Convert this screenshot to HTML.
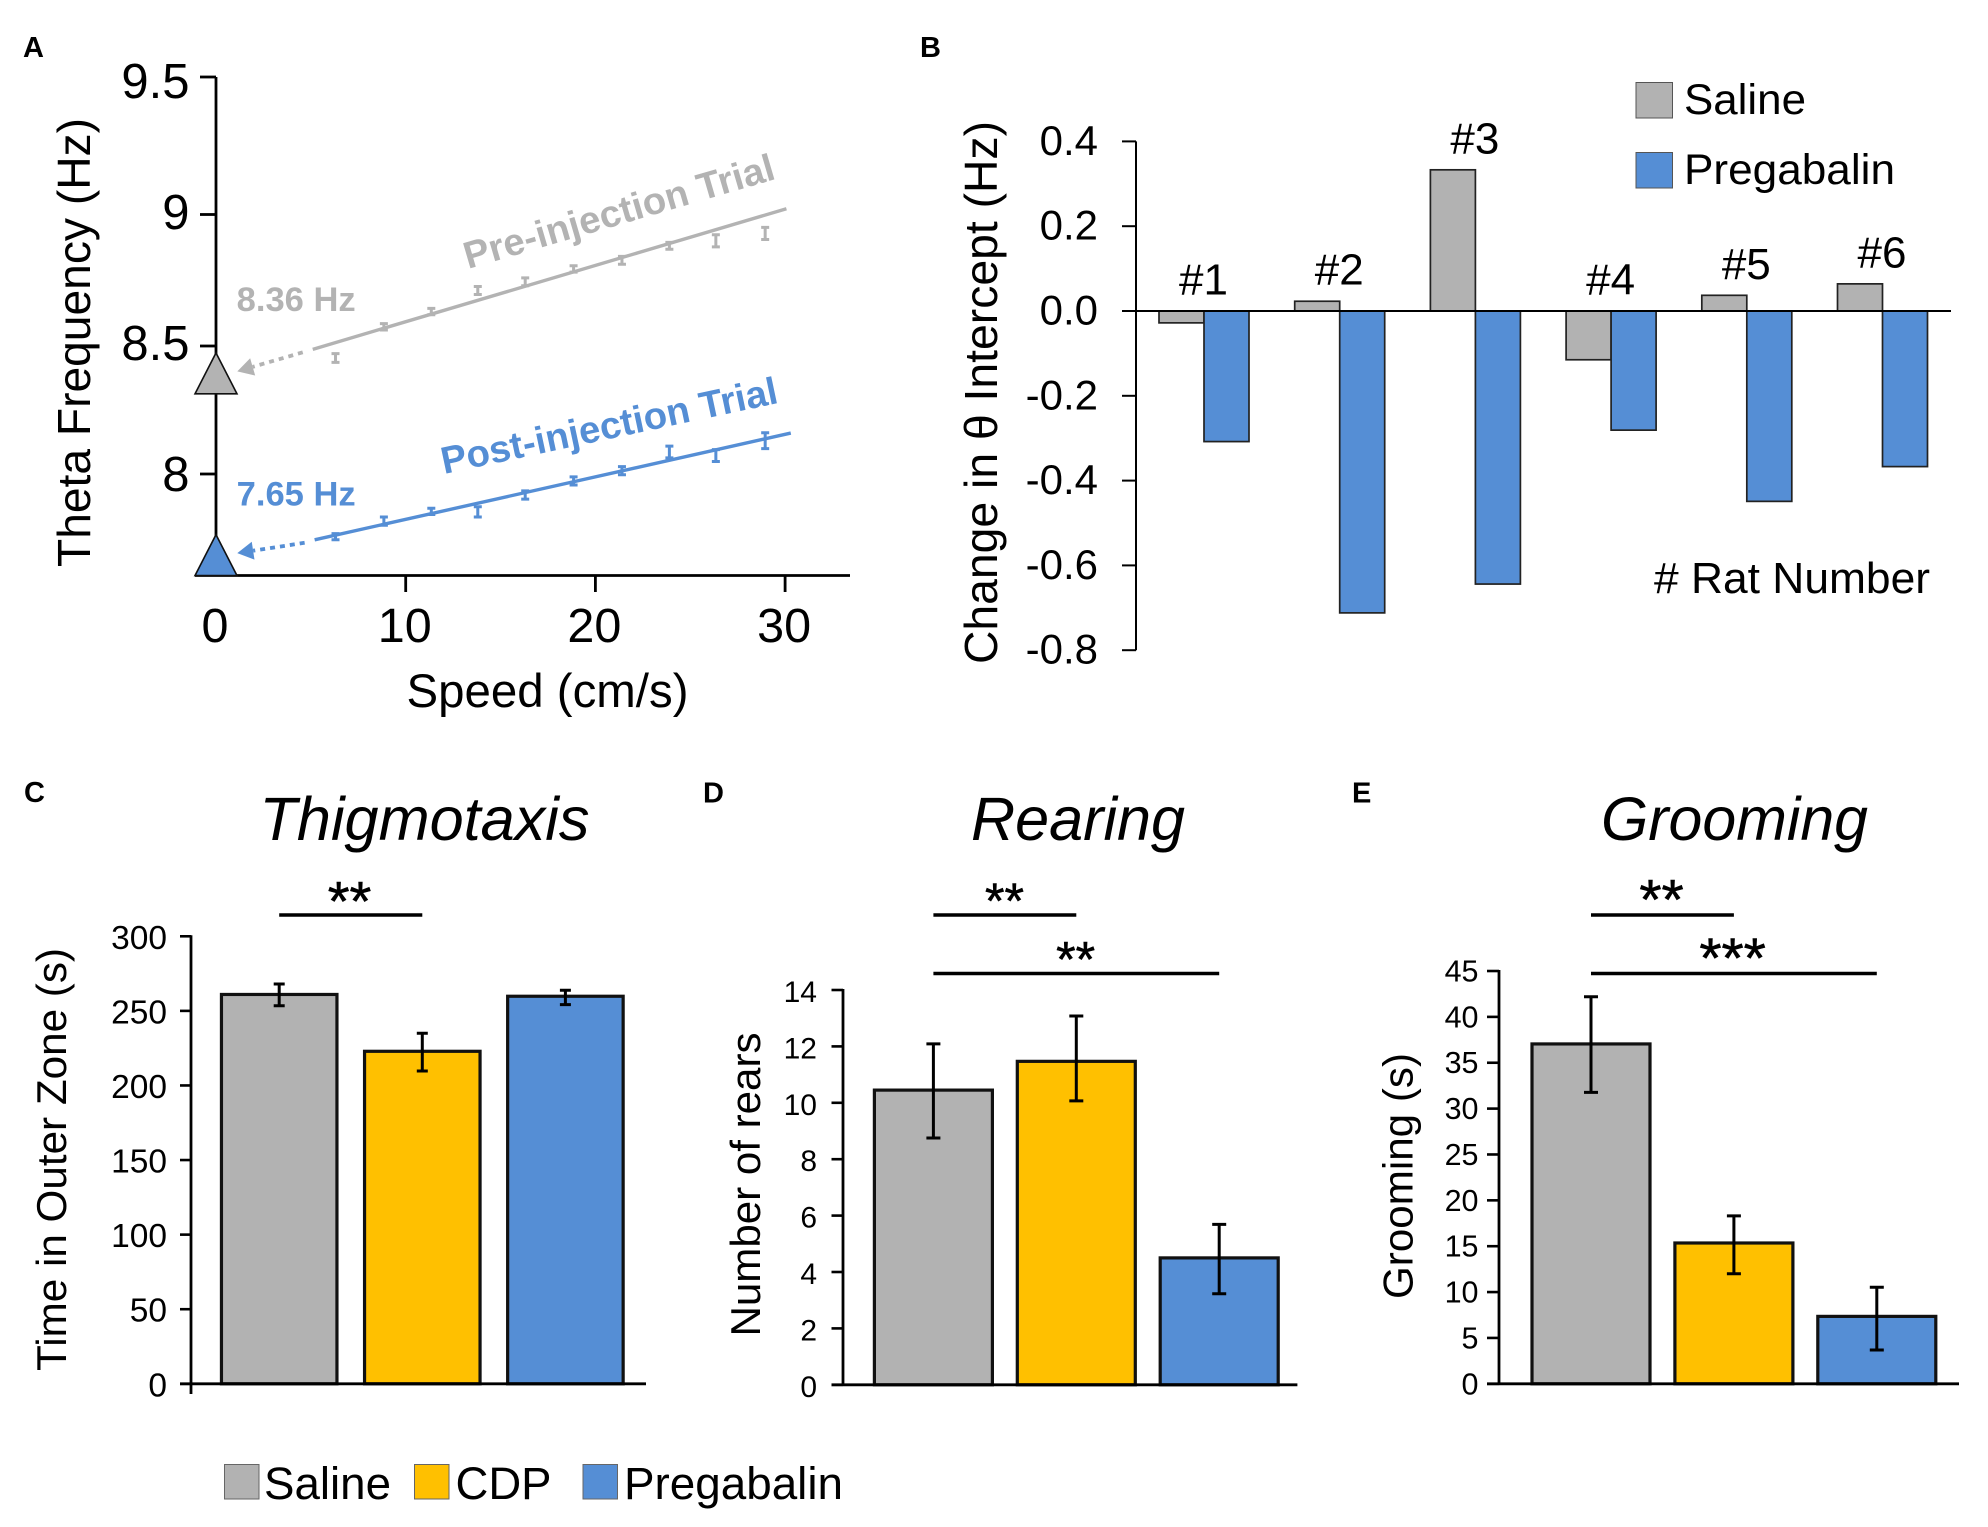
<!DOCTYPE html>
<html lang="en">
<head>
<meta charset="utf-8">
<title>Theta frequency and behaviour figure</title>
<style>
html,body{margin:0;padding:0;background:#fff;}
svg{display:block;font-family:"Liberation Sans",Arial,sans-serif;fill:#000;}
</style>
</head>
<body>
<svg id="figure" xmlns="http://www.w3.org/2000/svg" width="1988" height="1527" viewBox="0 0 1988 1527">
  <rect x="0" y="0" width="1988" height="1527" fill="#fff"/>

  <g id="panel-a">
    <text x="23" y="57" font-size="29" font-weight="bold">A</text>
    <text transform="translate(90,567) rotate(-90)" font-size="46" textLength="449" lengthAdjust="spacingAndGlyphs">Theta Frequency (Hz)</text>
    <text x="406.5" y="707" font-size="47" textLength="282" lengthAdjust="spacingAndGlyphs">Speed (cm/s)</text>
    <text transform="translate(468,269) rotate(-16.3)" font-size="38" font-weight="bold" fill="#b3b3b3" textLength="322" lengthAdjust="spacingAndGlyphs">Pre-injection Trial</text>
    <text transform="translate(444,474) rotate(-12)" font-size="38" font-weight="bold" fill="#558ed5" textLength="343" lengthAdjust="spacingAndGlyphs">Post-injection Trial</text>
    <text x="236.7" y="311" font-size="34" font-weight="bold" fill="#b3b3b3" textLength="119" lengthAdjust="spacingAndGlyphs">8.36 Hz</text>
    <text x="236.7" y="505.7" font-size="34" font-weight="bold" fill="#558ed5" textLength="119" lengthAdjust="spacingAndGlyphs">7.65 Hz</text>
  </g>

  <g id="panel-b">
    <text x="920" y="57" font-size="29" font-weight="bold">B</text>
    <text transform="translate(997,664) rotate(-90)" font-size="46" textLength="543" lengthAdjust="spacingAndGlyphs">Change in θ Intercept (Hz)</text>
    <rect x="1636" y="82.5" width="36.5" height="35.5" fill="#b2b2b2" stroke="#555" stroke-width="1"/>
    <text x="1684" y="114" font-size="43" textLength="122" lengthAdjust="spacingAndGlyphs">Saline</text>
    <rect x="1636" y="152.5" width="36.5" height="35.5" fill="#558ed5" stroke="#555" stroke-width="1"/>
    <text x="1684" y="184" font-size="43" textLength="211" lengthAdjust="spacingAndGlyphs">Pregabalin</text>
    <text x="1654" y="593" font-size="44" textLength="276" lengthAdjust="spacingAndGlyphs"># Rat Number</text>
  </g>

  <g id="panel-c">
    <text x="24" y="802" font-size="29" font-weight="bold">C</text>
    <text x="259.5" y="840" font-size="61" font-style="italic" textLength="330" lengthAdjust="spacingAndGlyphs">Thigmotaxis</text>
    <text transform="translate(66,1371) rotate(-90)" font-size="42" textLength="423" lengthAdjust="spacingAndGlyphs">Time in Outer Zone (s)</text>
  </g>

  <g id="panel-d">
    <text x="703" y="802.5" font-size="29" font-weight="bold">D</text>
    <text x="971" y="840" font-size="61" font-style="italic" textLength="214" lengthAdjust="spacingAndGlyphs">Rearing</text>
    <text transform="translate(760,1336.5) rotate(-90)" font-size="42" textLength="304" lengthAdjust="spacingAndGlyphs">Number of rears</text>
  </g>

  <g id="panel-e">
    <text x="1352" y="802.5" font-size="29" font-weight="bold">E</text>
    <text x="1601" y="840" font-size="61" font-style="italic" textLength="267" lengthAdjust="spacingAndGlyphs">Grooming</text>
    <text transform="translate(1412.3,1299) rotate(-90)" font-size="42" textLength="246" lengthAdjust="spacingAndGlyphs">Grooming (s)</text>
  </g>

  <g id="shared-legend">
    <rect x="224.5" y="1464.5" width="34.5" height="34.5" fill="#b2b2b2" stroke="#666" stroke-width="1"/>
    <text x="264" y="1499" font-size="45" textLength="127" lengthAdjust="spacingAndGlyphs">Saline</text>
    <rect x="414.5" y="1464.5" width="34.5" height="34.5" fill="#ffc000" stroke="#666" stroke-width="1"/>
    <text x="455.5" y="1499" font-size="45" textLength="96" lengthAdjust="spacingAndGlyphs">CDP</text>
    <rect x="583" y="1464.5" width="34.5" height="34.5" fill="#558ed5" stroke="#666" stroke-width="1"/>
    <text x="624" y="1499" font-size="45" textLength="219" lengthAdjust="spacingAndGlyphs">Pregabalin</text>
  </g>
</svg>

<script>
// ---------- Panel A data ----------
var speedBins = [6.3, 8.85, 11.35, 13.8, 16.3, 18.85, 21.4, 23.9, 26.35, 28.95];
var preFrequency = [8.453, 8.573, 8.631, 8.711, 8.744, 8.793, 8.826, 8.881, 8.900, 8.928];
var preError = [0.017, 0.012, 0.012, 0.015, 0.015, 0.012, 0.015, 0.013, 0.023, 0.023];
var postFrequency = [7.755, 7.816, 7.854, 7.852, 7.918, 7.973, 8.013, 8.086, 8.072, 8.130];
var postError = [0.012, 0.016, 0.012, 0.020, 0.016, 0.016, 0.016, 0.023, 0.023, 0.031];
var preFitSpeed = [5.1, 30.07];
var preFitFrequency = [8.487, 9.021];
var postFitSpeed = [5.2, 30.3];
var postFitFrequency = [7.743, 8.160];
var preIntercept = 8.36;
var postIntercept = 7.65;
var aYTicks = [8, 8.5, 9, 9.5];
var aYTickLabels = ['8', '8.5', '9', '9.5'];
var aXTicks = [0, 10, 20, 30];
var aXTickLabels = ['0', '10', '20', '30'];

// ---------- Panel B data ----------
var ratLabels = ['#1', '#2', '#3', '#4', '#5', '#6'];
var salineChange = [-0.028, 0.023, 0.333, -0.115, 0.037, 0.064];
var pregabalinChange = [-0.308, -0.712, -0.644, -0.281, -0.449, -0.367];
var bYTicks = [0.4, 0.2, 0, -0.2, -0.4, -0.6, -0.8];
var bYTickLabels = ['0.4', '0.2', '0.0', '-0.2', '-0.4', '-0.6', '-0.8'];

// ---------- Panels C, D, E data ----------
var treatments = ['saline', 'cdp', 'pregabalin'];
var thigmotaxisMeans = [261, 222.9, 259.8];
var thigmotaxisUpper = [268, 235, 263.8];
var thigmotaxisLower = [253.4, 209.7, 254.2];
var thigmotaxisTicks = [0, 50, 100, 150, 200, 250, 300];
var rearingMeans = [10.45, 11.47, 4.5];
var rearingUpper = [12.09, 13.08, 5.69];
var rearingLower = [8.75, 10.07, 3.23];
var rearingTicks = [0, 2, 4, 6, 8, 10, 12, 14];
var groomingMeans = [37.05, 15.35, 7.35];
var groomingUpper = [42.2, 18.3, 10.53];
var groomingLower = [31.77, 12.0, 3.68];
var groomingTicks = [0, 5, 10, 15, 20, 25, 30, 35, 40, 45];

var SVGNS = 'http://www.w3.org/2000/svg';
var GREY = '#b2b2b2', BLUE = '#558ed5', YELLOW = '#ffc000';
var TREAT_COLORS = [GREY, YELLOW, BLUE];

function mk(parent, tag, props, text) {
  var e = document.createElementNS(SVGNS, tag);
  for (var k in props) e.setAttribute(k, props[k]);
  if (text !== undefined) e.textContent = text;
  parent.appendChild(e);
  return e;
}
function mkLine(parent, x1, y1, x2, y2, color, width, dash) {
  var p = {x1: x1, y1: y1, x2: x2, y2: y2, stroke: color, 'stroke-width': width};
  if (dash) p['stroke-dasharray'] = dash;
  return mk(parent, 'line', p);
}

// ---------- Panel A ----------
(function () {
  var g = document.getElementById('panel-a');
  function xA(v) { return 216 + v * 18.97; }
  function yA(v) {
    if (v <= 8) return 474 + (8 - v) * 256;
    if (v <= 8.5) return 474 - (v - 8) * 256;
    if (v <= 9) return 346 - (v - 8.5) * 263;
    return 214.5 - (v - 9) * 275;
  }
  function yALabel(v) { return 491 - (v - 8) * 262; }

  var el;
  el = mkLine(g, 216, 77, 216, 576, '#000', 2.8);
  
  
  el = mkLine(g, 195, 575.5, 850, 575.5, '#000', 2.8);
  
  

  aYTicks.forEach(function (v, i) {
    var t = mkLine(g, 200, yA(v), 216, yA(v), '#000', 2.8);
    
    
    var l = mk(g, 'text', {x: 189.5, y: yALabel(v), 'font-size': 49, 'text-anchor': 'end'}, aYTickLabels[i]);
    
    
  });
  aXTicks.forEach(function (v, i) {
    if (v !== 0) {
      var t = mkLine(g, xA(v), 575.5, xA(v), 592, '#000', 2.8);
      
      
    }
    var l = mk(g, 'text', {x: xA(v) - 1, y: 642, 'font-size': 48.5, 'text-anchor': 'middle'}, aXTickLabels[i]);
    
    
  });

  function series(key, color, vals, errs, fitS, fitF, intercept) {
    var fit = mkLine(g, xA(fitS[0]), yA(fitF[0]), xA(fitS[1]), yA(fitF[1]), color, 3.4);
    
    

    speedBins.forEach(function (s, i) {
      var x = xA(s), top = yA(vals[i] + errs[i]), bot = yA(vals[i] - errs[i]);
      var b = mk(g, 'path', {
        d: 'M' + (x - 4) + ' ' + top + 'H' + (x + 4) + 'M' + x + ' ' + top + 'V' + bot + 'M' + (x - 4) + ' ' + bot + 'H' + (x + 4),
        fill: 'none', stroke: color, 'stroke-width': 3
      });
      
      
    });

    var yI = yA(intercept);
    var tipX = xA(0) + 21.3, tipY = yI - 10.5;
    var tailX = xA(fitS[0]) - 10, tailY = yA(fitF[0]) + 3;
    var dx = tailX - tipX, dy = tailY - tipY, len = Math.sqrt(dx * dx + dy * dy);
    var ux = dx / len, uy = dy / len;
    var baseX = tipX + ux * 16, baseY = tipY + uy * 16;
    var dots = mkLine(g, tailX, tailY, baseX, baseY, color, 3.8, '5 5');
    
    
    var head = mk(g, 'polygon', {
      points: tipX + ',' + tipY + ' ' + (baseX - uy * 9) + ',' + (baseY + ux * 9) + ' ' + (baseX + uy * 9) + ',' + (baseY - ux * 9),
      fill: color
    });
    
    

    var tri = mk(g, 'polygon', {
      points: xA(0) + ',' + (yI - 29) + ' ' + (xA(0) - 21) + ',' + (yI + 12) + ' ' + (xA(0) + 21) + ',' + (yI + 12),
      fill: color, stroke: '#111', 'stroke-width': 1.6, 'stroke-linejoin': 'miter'
    });
    
    
  }
  series('pre', '#b3b3b3', preFrequency, preError, preFitSpeed, preFitFrequency, preIntercept);
  series('post', BLUE, postFrequency, postError, postFitSpeed, postFitFrequency, postIntercept);
})();

// ---------- Panel B ----------
(function () {
  var g = document.getElementById('panel-b');
  function yB(v) { return 311 - v * 424; }
  function groupX(i) { return 1204 + i * 135.7; }
  var BW = 45;

  function bar(x, v, fill, name) {
    var top = Math.min(yB(0), yB(v)), h = Math.abs(yB(v) - yB(0));
    var r = mk(g, 'rect', {x: x, y: top, width: BW, height: h, fill: fill, stroke: '#222', 'stroke-width': 1.7});
    
    
  }
  ratLabels.forEach(function (lab, i) {
    bar(groupX(i) - BW, salineChange[i], GREY, 'bar-saline');
    bar(groupX(i), pregabalinChange[i], BLUE, 'bar-pregabalin');
    var baseY = Math.min(yB(0), yB(salineChange[i])) - 16.5;
    var t = mk(g, 'text', {x: groupX(i) - 0.5, y: baseY, 'font-size': 44, 'text-anchor': 'middle'}, lab);
    
    
  });

  var el;
  el = mkLine(g, 1136, yB(0.4), 1136, yB(-0.8), '#000', 2);
  
  
  el = mkLine(g, 1122, yB(0), 1951, yB(0), '#000', 2);
  
  

  bYTicks.forEach(function (v, i) {
    var t = mkLine(g, 1122, yB(v), 1136, yB(v), '#000', 2);
    
    
    var l = mk(g, 'text', {x: 1098, y: yB(v) + 13.5, 'font-size': 42, 'text-anchor': 'end'}, bYTickLabels[i]);
    
    
  });
})();

// ---------- Panels C, D, E ----------
function drawBarPanel(cfg) {
  var g = document.getElementById(cfg.id);
  function y(v) { return cfg.y0 - v * cfg.perUnit; }
  function cx(i) { return cfg.c0 + i * cfg.step; }

  cfg.means.forEach(function (m, i) {
    var r = mk(g, 'rect', {
      x: cx(i) - cfg.bw / 2, y: y(m), width: cfg.bw, height: y(0) - y(m),
      fill: TREAT_COLORS[i], stroke: '#111', 'stroke-width': 3.2
    });
    
    
  });
  cfg.upper.forEach(function (u, i) {
    var c = cx(i), top = y(u), bot = y(cfg.lower[i]);
    var b = mk(g, 'path', {
      d: 'M' + (c - cfg.cap) + ' ' + top + 'H' + (c + cfg.cap) + 'M' + c + ' ' + top + 'V' + bot + 'M' + (c - cfg.cap) + ' ' + bot + 'H' + (c + cfg.cap),
      fill: 'none', stroke: '#000', 'stroke-width': 3
    });
    
    
  });

  var el;
  var maxTick = cfg.ticks[cfg.ticks.length - 1];
  el = mkLine(g, cfg.axisX, y(maxTick) - 1, cfg.axisX, cfg.axisBottom, '#000', 2.8);
  
  
  el = mkLine(g, cfg.axisX - cfg.tickLen, y(0), cfg.axisEnd, y(0), '#000', 2.8);
  
  

  cfg.ticks.forEach(function (v) {
    var t = mkLine(g, cfg.axisX - cfg.tickLen, y(v), cfg.axisX, y(v), '#000', 2.6);
    
    
    var l = mk(g, 'text', {x: cfg.labelX, y: y(v) + cfg.labelDy, 'font-size': cfg.labelFs, 'text-anchor': 'end'}, String(v));
    
    
  });

  cfg.sig.forEach(function (s) {
    var line = mkLine(g, cx(s.a), s.y, cx(s.b), s.y, '#000', 3.6);
    
    
    var st = mk(g, 'text', {x: s.tx, y: s.y + s.dy, 'font-size': s.fs, 'text-anchor': 'middle', stroke: '#000', 'stroke-width': 0.6}, s.stars);
    
    
  });
}

drawBarPanel({
  id: 'panel-c', prefix: 'c', means: thigmotaxisMeans, upper: thigmotaxisUpper, lower: thigmotaxisLower, ticks: thigmotaxisTicks,
  y0: 1383.8, perUnit: 1.4917, c0: 279.2, step: 143.1, bw: 115.5, cap: 5.5,
  axisX: 191, axisBottom: 1394, axisEnd: 646, tickLen: 11, labelX: 167, labelDy: 12.5, labelFs: 33.5,
  sig: [{a: 0, b: 1, y: 915, dy: 5.5, tx: 349.5, stars: '**', fs: 56}]
});
drawBarPanel({
  id: 'panel-d', prefix: 'd', means: rearingMeans, upper: rearingUpper, lower: rearingLower, ticks: rearingTicks,
  y0: 1384.8, perUnit: 28.2, c0: 933.4, step: 142.9, bw: 118, cap: 7,
  axisX: 843, axisBottom: 1384.8, axisEnd: 1297.4, tickLen: 11.5, labelX: 817, labelDy: 12, labelFs: 30,
  sig: [
    {a: 0, b: 1, y: 915, dy: 3, tx: 1004.5, stars: '**', fs: 50},
    {a: 0, b: 2, y: 973.5, dy: 3, tx: 1075.6, stars: '**', fs: 50}
  ]
});
drawBarPanel({
  id: 'panel-e', prefix: 'e', means: groomingMeans, upper: groomingUpper, lower: groomingLower, ticks: groomingTicks,
  y0: 1383.8, perUnit: 9.173, c0: 1591, step: 142.9, bw: 118, cap: 7,
  axisX: 1499, axisBottom: 1383.8, axisEnd: 1959, tickLen: 12, labelX: 1478.5, labelDy: 10.5, labelFs: 30.5,
  sig: [
    {a: 0, b: 1, y: 915, dy: 4, tx: 1661.5, stars: '**', fs: 57},
    {a: 0, b: 2, y: 973.5, dy: 4, tx: 1732.6, stars: '***', fs: 57}
  ]
});
</script>
</body>
</html>
